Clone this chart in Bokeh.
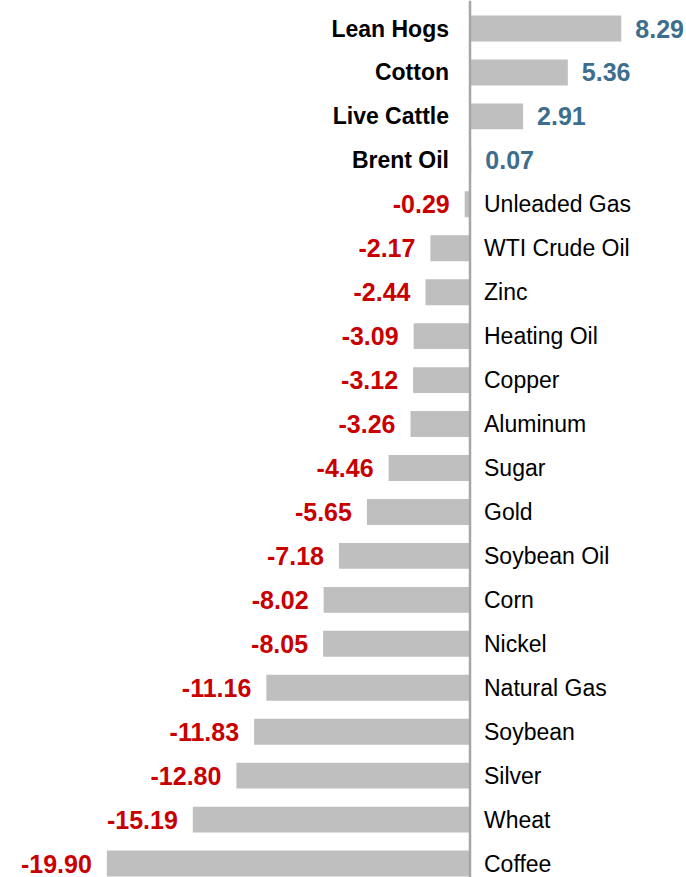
from bokeh.plotting import figure
from bokeh.models import ColumnDataSource, Range1d, Span
from bokeh.core.properties import value
from bokeh.embed import file_html
from bokeh.resources import INLINE

categories = ["Lean Hogs", "Cotton", "Live Cattle", "Brent Oil", "Unleaded Gas",
              "WTI Crude Oil", "Zinc", "Heating Oil", "Copper", "Aluminum",
              "Sugar", "Gold", "Soybean Oil", "Corn", "Nickel",
              "Natural Gas", "Soybean", "Silver", "Wheat", "Coffee"]
values = [8.29, 5.36, 2.91, 0.07, -0.29,
          -2.17, -2.44, -3.09, -3.12, -3.26,
          -4.46, -5.65, -7.18, -8.02, -8.05,
          -11.16, -11.83, -12.80, -15.19, -19.90]

W, H = 686, 877
PX_X = 18.25      # px per unit
AXIS_PX = 469.5
ROW_PX = 43.95
TOP_PX = 28

ys = [-i for i in range(len(categories))]
pos = {"y": [], "v": [], "cat": [], "lab": []}
neg = {"y": [], "v": [], "cat": [], "lab": []}
for y, c, v in zip(ys, categories, values):
    d = pos if v >= 0 else neg
    d["y"].append(y)
    d["v"].append(v)
    d["cat"].append(c)
    d["lab"].append(f"{v:.2f}")

src_all = ColumnDataSource(dict(y=ys, v=values))
src_pos = ColumnDataSource(pos)
src_neg = ColumnDataSource(neg)

p = figure(width=W, height=H, output_backend="svg", toolbar_location=None,
           x_range=Range1d(-AXIS_PX / PX_X, (W - AXIS_PX) / PX_X),
           y_range=Range1d(-(H - TOP_PX) / ROW_PX, TOP_PX / ROW_PX),
           min_border=0)
p.axis.visible = False
p.grid.visible = False
p.outline_line_color = None
p.background_fill_color = "white"

p.hbar(y="y", left=0, right="v", height=0.59, source=src_all,
       fill_color="#bfbfbf", line_color=None)

p.add_layout(Span(location=0, dimension="height", line_color="#a6a6a6", line_width=2.5))

FONT = value("Liberation Sans")

# positive: bold category labels left of axis, blue values right of bar
p.text(x=0, y="y", text="cat", source=src_pos, x_offset=-21,
       text_align="right", text_baseline="middle", text_font=FONT,
       text_font_style="bold", text_font_size="23px", text_color="black")
p.text(x="v", y="y", text="lab", source=src_pos, x_offset=14,
       text_align="left", text_baseline="middle", text_font=FONT,
       text_font_style="bold", text_font_size="25px", text_color="#3d6e8e")

# negative: normal category labels right of axis, red values left of bar
p.text(x=0, y="y", text="cat", source=src_neg, x_offset=14,
       text_align="left", text_baseline="middle", text_font=FONT,
       text_font_size="23px", text_color="black")
p.text(x="v", y="y", text="lab", source=src_neg, x_offset=-15,
       text_align="right", text_baseline="middle", text_font=FONT,
       text_font_style="bold", text_font_size="25px", text_color="#c80000")

open("out.html", "w").write(file_html(p, INLINE))
